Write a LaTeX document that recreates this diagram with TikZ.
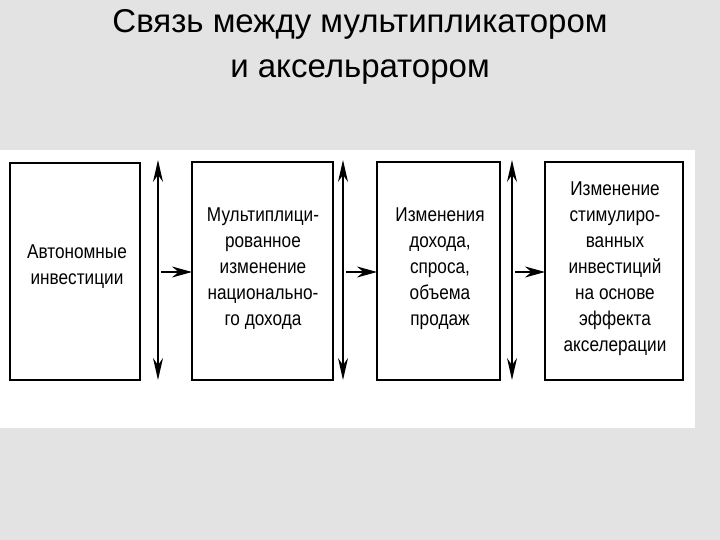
\documentclass[tikz,border=0pt]{standalone}
\usepackage{fontspec}
\setmainfont{Liberation Sans}
\newfontfamily\narrowfont[FakeStretch=0.86]{Liberation Sans}
\usetikzlibrary{arrows.meta}
\begin{document}
\begin{tikzpicture}[x=1pt,y=-1pt,
  txt/.style={align=center,font=\narrowfont\fontsize{20}{26}\selectfont,inner sep=0pt},
  link/.style={line width=1.4pt,-{Stealth[length=20pt,width=11pt]}},
  both/.style={line width=1.4pt,{Stealth[length=22pt,width=10pt]}-{Stealth[length=22pt,width=10pt]}},
  frame/.style={line width=1.8pt}]
\useasboundingbox (0,0) rectangle (720,540);
\fill[gray!22] (0,0) rectangle (720,540);
\fill[white] (0,150) rectangle (695,428);
\node[font=\fontsize{33}{45}\selectfont,align=center] (title) at (360,47) {Связь между мультипликатором\\и аксельратором};
\draw[frame] (10,163) rectangle (140,380);
\draw[frame] (192,162) rectangle (333,380);
\draw[frame] (377,162) rectangle (500,380);
\draw[frame] (545,162) rectangle (683,380);
\node[txt] (a) at (77,267) {Автономные\\инвестиции};
\node[txt] (b) at (263,269) {Мультиплици-\\рованное\\изменение\\национально-\\го дохода};
\node[txt] (c) at (440,269) {Изменения\\дохода,\\спроса,\\объема\\продаж};
\node[txt] (d) at (615,269) {Изменение\\стимулиро-\\ванных\\инвестиций\\на основе\\эффекта\\акселерации};
\coordinate (a1) at (158,160); \coordinate (a2) at (158,380);
\coordinate (b1) at (343,160); \coordinate (b2) at (343,380);
\coordinate (c1) at (512,160); \coordinate (c2) at (512,380);
\draw[both] (a1) -- (a2);
\draw[both] (b1) -- (b2);
\draw[both] (c1) -- (c2);
\coordinate (h1) at (161,272); \coordinate (h1e) at (192,272);
\coordinate (h2) at (346,272); \coordinate (h2e) at (377,272);
\coordinate (h3) at (515,272); \coordinate (h3e) at (545,272);
\draw[link] (h1) -- (h1e);
\draw[link] (h2) -- (h2e);
\draw[link] (h3) -- (h3e);
\end{tikzpicture}
\end{document}
